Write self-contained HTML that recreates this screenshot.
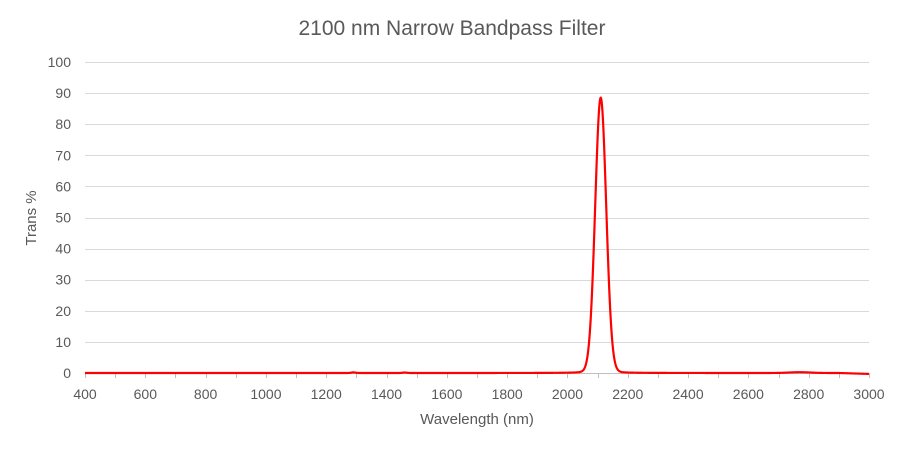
<!DOCTYPE html>
<html><head><style>
body{margin:0;background:#fff;font-family:"Liberation Sans",sans-serif}
</style></head><body>
<svg width="905" height="450" xmlns="http://www.w3.org/2000/svg" font-family="Liberation Sans, sans-serif">
<rect width="905" height="450" fill="#fff"/>
<text x="452" y="35" font-size="21" fill="#595959" text-anchor="middle">2100 nm Narrow Bandpass Filter</text>
<g id="grid" stroke="#d9d9d9" stroke-width="1"></g>
<g id="yl" font-size="14" fill="#595959" text-anchor="end"></g>
<g id="xl" font-size="14" fill="#595959" text-anchor="middle"></g>
<line x1="85" y1="373.5" x2="869" y2="373.5" stroke="#bfbfbf"/>
<g id="ticks" stroke="#bfbfbf"></g>
<text x="477" y="424" font-size="15" fill="#595959" text-anchor="middle">Wavelength (nm)</text>
<text transform="translate(36,218) rotate(-90)" font-size="15" fill="#595959" text-anchor="middle">Trans %</text>
<path id="curve" fill="none" stroke="#ff0000" stroke-width="2.2"/>
</svg>
<script>
var X=function(w){return 85+(w-400)/2600*784};
var Y=function(v){return 373-v*3.11};
var ns="http://www.w3.org/2000/svg";
var g=document.getElementById('grid'),yl=document.getElementById('yl'),xl=document.getElementById('xl'),tk=document.getElementById('ticks');
for(var v=10;v<=100;v+=10){var l=document.createElementNS(ns,'line');l.setAttribute('x1',85);l.setAttribute('x2',869);var y=Math.round(Y(v))+0.5;l.setAttribute('y1',y);l.setAttribute('y2',y);g.appendChild(l);}
for(var v=0;v<=100;v+=10){var t=document.createElementNS(ns,'text');t.setAttribute('x',71);t.setAttribute('y',Y(v)+5);t.textContent=v;yl.appendChild(t);}
for(var w=400;w<=3000;w+=100){var l=document.createElementNS(ns,'line');var x=Math.round(X(w))+0.5;l.setAttribute('x1',x);l.setAttribute('x2',x);l.setAttribute('y1',373);l.setAttribute('y2',378);tk.appendChild(l);
if(w%200==0){var t=document.createElementNS(ns,'text');t.setAttribute('x',X(w));t.setAttribute('y',399);t.textContent=w;xl.appendChild(t);}}
var d='';
for(var px=85;px<=869;px+=0.25){var dd=px-600.7;var v=86*Math.exp(-Math.pow(dd/7.8,2))+2.5/(1+Math.pow(dd/7,2));
v+=0.25*Math.exp(-Math.pow((px-X(2770))/15,2))+0.2*Math.exp(-Math.pow((px-X(1290))/3,2))+0.15*Math.exp(-Math.pow((px-X(1460))/3,2));
if(px>X(2900))v-=0.3*(px-X(2900))/(869-X(2900));
d+=(d?'L':'M')+px.toFixed(2)+','+Y(Math.max(v,-0.3)).toFixed(2);}
document.getElementById('curve').setAttribute('d',d);
</script>
</body></html>
